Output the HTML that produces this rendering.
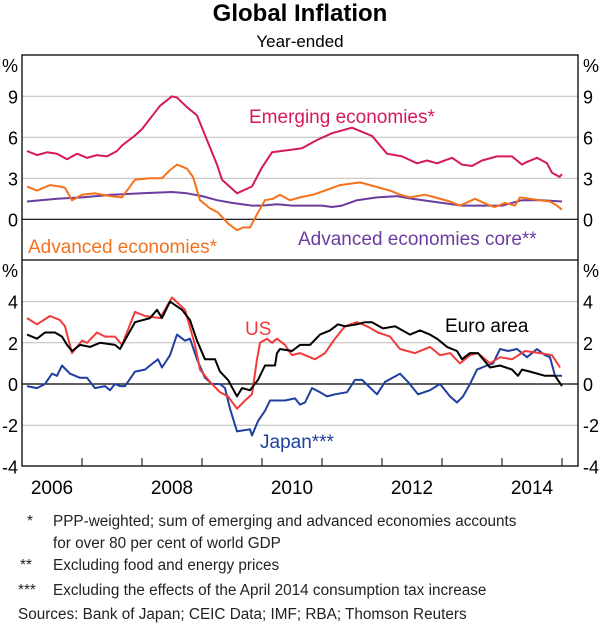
<!DOCTYPE html>
<html><head><meta charset="utf-8">
<style>
html,body{margin:0;padding:0;background:#fff;}
svg{display:block;font-family:"Liberation Sans",Arial,sans-serif;}
</style></head>
<body>
<svg id="chart" width="600" height="623" viewBox="0 0 600 623">
<text x="300" y="21" text-anchor="middle" font-size="24" font-weight="bold">Global Inflation</text>
<text x="300" y="47" text-anchor="middle" font-size="17">Year-ended</text>
<g id="grid"></g>
<g id="series"></g>
<rect x="22" y="55" width="556" height="411" fill="none" stroke="#000" stroke-width="1.3"/>
<line x1="22" y1="260" x2="578" y2="260" stroke="#000" stroke-width="1.3"/>
<g id="labels" font-size="18"></g>
<text x="249" y="123" font-size="19" fill="#d6185f">Emerging economies*</text>
<text x="28" y="253" font-size="19" fill="#f5721c">Advanced economies*</text>
<text x="298" y="245" font-size="19" fill="#6a3d9e">Advanced economies core**</text>
<text x="245" y="335" font-size="19" fill="#f23a3a">US</text>
<text x="445" y="332" font-size="19" fill="#000">Euro area</text>
<text x="260" y="448" font-size="19" fill="#1f3f9f">Japan***</text>
<g font-size="15.3" fill="#222">
<text x="27" y="526">*</text>
<text x="53" y="526">PPP-weighted; sum of emerging and advanced economies accounts</text>
<text x="53" y="548">for over 80 per cent of world GDP</text>
<text x="20" y="570">**</text>
<text x="53" y="570">Excluding food and energy prices</text>
<text x="18" y="595">***</text>
<text x="53" y="595">Excluding the effects of the April 2014 consumption tax increase</text>
<text x="18" y="619">Sources:  Bank of Japan; CEIC Data; IMF; RBA; Thomson Reuters</text>
</g>
</svg>
<script>
// months since Jan 2006 / values
const emergingM=[1,3,5,7,9,11,13,15,17,19,20,22.5,24,27.6,30,31,33,35,37,39,40,43,46,48,50,54,56,59,62,66,70,73,76,79,81,83,86,88,90,92,95,98,100,101,103,105,106,107.5,108];
const emergingV=[5.0,4.7,4.9,4.8,4.4,4.8,4.5,4.7,4.6,5.0,5.4,6.1,6.6,8.3,9.0,8.9,8.2,7.6,5.8,4.0,2.9,1.9,2.4,3.8,4.9,5.1,5.2,5.8,6.3,6.7,6.1,4.8,4.6,4.1,4.3,4.1,4.5,4.0,3.9,4.3,4.6,4.6,4.0,4.2,4.5,4.1,3.4,3.1,3.3];
const advancedM=[1,3,5.6,7.6,8.6,10,12,14.6,17.6,20,22.6,25.6,28,29.6,31,33,34.2,35.6,37.6,39.2,41.2,43,44.2,45.6,47.2,48.6,50.2,51.6,53.6,55.6,58.2,60.6,63.6,67.6,70.6,73.6,75.6,77.6,80.6,82.6,85.6,87.6,90.6,93.6,94.6,96.6,98.6,99.6,103.6,105.6,107,108];
const advancedV=[2.4,2.1,2.5,2.4,2.3,1.4,1.8,1.9,1.7,1.6,2.9,3.0,3.0,3.6,4.0,3.7,3.1,1.4,0.8,0.5,-0.3,-0.8,-0.6,-0.6,0.5,1.4,1.5,1.8,1.4,1.6,1.8,2.1,2.5,2.7,2.4,2.1,1.8,1.6,1.8,1.6,1.3,1.0,1.5,1.0,0.9,1.2,1.0,1.6,1.4,1.3,1.0,0.7];
const coreM=[1,7,12,18,24,30,33,36,39,42,46,48,51,54,60,62,64,67,71,75,78,82,86,88,91,96,100,104,108];
const coreV=[1.3,1.5,1.6,1.8,1.9,2.0,1.9,1.7,1.4,1.2,1.0,1.0,1.1,1.0,1.0,0.9,1.0,1.4,1.6,1.7,1.5,1.3,1.1,1.0,1.0,1.0,1.4,1.4,1.3];
const usM=[1,3,5.6,7.6,8.6,10,12,13,15,16.6,18.6,20,22.6,24.6,27.6,30,32.6,34.6,35.6,37.6,39.6,41.2,43,44.6,46,47,47.6,49,50,51,52.6,54,55.6,58.6,60.6,62.6,64.6,67,69,71.2,73.6,75.6,78.6,81.6,83.6,85.6,87.6,89.6,91.2,93.6,95.6,98,100.6,103.6,106,107.6];
const usV=[3.2,2.9,3.3,3.1,2.8,1.5,2.1,2.0,2.5,2.3,2.3,1.9,3.5,3.3,3.2,4.2,3.6,1.9,0.7,0.1,-0.4,-0.6,-1.2,-0.8,-0.5,1.2,2.0,2.2,2.0,2.2,1.9,1.4,1.5,1.2,1.5,2.2,2.8,3.0,2.8,2.5,2.3,1.7,1.5,1.8,1.4,1.5,1.0,1.4,1.5,1.0,1.3,1.2,1.6,1.5,1.4,0.8];
const euroM=[1,3,4.6,6.6,8,9,10,11.6,13.6,15.6,18.6,19.6,22.6,25.6,27,28,29.6,32,33.6,35,36.6,38.6,39.6,41.2,43,44,45.6,47.2,48.6,50.6,51,51.6,54,55.6,57.6,59.6,61.6,63.2,64.6,67,68.6,70,72.2,74.6,77.6,79.6,81.6,83,85,87,88,89.6,91.2,93.6,95.6,98,99.2,100,101.6,104.6,106.6,108];
const euroV=[2.4,2.2,2.5,2.5,2.3,1.9,1.6,1.9,1.8,2.0,1.9,1.7,3.0,3.2,3.6,3.2,4.0,3.6,3.1,2.1,1.2,1.2,0.6,0.2,-0.6,-0.2,-0.3,0.2,0.9,0.9,1.5,1.7,1.6,1.9,1.9,2.4,2.6,2.9,2.8,2.9,3.0,3.0,2.7,2.8,2.4,2.6,2.4,2.2,1.8,1.6,1.2,1.5,1.5,0.8,0.9,0.7,0.4,0.7,0.6,0.4,0.4,-0.1];
const japanM=[1,3,4.6,6,7,8,9.6,11.6,13,14.6,16.6,17.6,18.6,19.6,20.6,22.6,24.6,25.6,27.2,28,29.6,31,32.6,33.6,35,36.6,38,39.6,40.6,41.6,43,45.6,46,47.2,48.6,49.6,52.6,54.6,55.6,56.6,58,59.6,61,62.6,65,66.6,68,71,72.6,75.6,77.2,79.2,81.6,83.6,85.6,87,88.2,89.6,91,93,94.2,95.6,97.2,99,101,103,104.6,105.6,106.6,108];
const japanV=[-0.1,-0.2,0,0.5,0.4,0.9,0.5,0.3,0.3,-0.2,-0.1,-0.3,0,-0.1,-0.1,0.6,0.7,0.9,1.2,0.8,1.4,2.4,2.1,2.2,1.2,0.3,0,0,-0.2,-1.2,-2.3,-2.2,-2.5,-1.8,-1.3,-0.8,-0.8,-0.7,-1.0,-0.9,-0.2,-0.4,-0.6,-0.5,-0.4,0.2,0.2,-0.5,0.1,0.5,0.1,-0.5,-0.3,0,-0.6,-0.9,-0.6,0,0.7,0.9,1.0,1.7,1.6,1.7,1.3,1.7,1.4,1.3,0.4,0.4];
const topTicks=[9,6,3,0];
const bottomTicks=[4,2,0,-2,-4];
const yearLabels=["2006","2008","2010","2012","2014"];

const NS="http://www.w3.org/2000/svg";
const xS=m=>22+m*5;
const yTop=v=>219.3-13.67*v;
const yBot=v=>384-20.6*v;
function mk(tag,attrs,parent){const e=document.createElementNS(NS,tag);for(const k in attrs)e.setAttribute(k,attrs[k]);parent.appendChild(e);return e;}
const grid=document.getElementById('grid'),ser=document.getElementById('series'),lab=document.getElementById('labels');

topTicks.forEach(v=>{
  const l=mk('line',{x1:22,x2:578,y1:yTop(v),y2:yTop(v),stroke:v===0?'#000':'#bbb','stroke-width':v===0?1.2:1},grid);
  
  
  [[18,'end'],[583,'start']].forEach(([x,a])=>{
    const t=mk('text',{x:x,y:yTop(v)+7,'text-anchor':a},lab);t.textContent=v;
    
    
  });
});
bottomTicks.forEach(v=>{
  if(v>-4){
    const l=mk('line',{x1:22,x2:578,y1:yBot(v),y2:yBot(v),stroke:v===0?'#000':'#bbb','stroke-width':v===0?1.2:1},grid);
    
    
  }
  [[18,'end'],[583,'start']].forEach(([x,a])=>{
    const t=mk('text',{x:x,y:yBot(v)+7,'text-anchor':a},lab);t.textContent=v;
    
    
  });
});
[[2,72],[583,72],[2,277],[583,277]].forEach(([x,y])=>{
  const t=mk('text',{x:x,y:y},lab);t.textContent='%';
  
  
});
for(let yr=1;yr<=9;yr++){
  const l=mk('line',{x1:xS(yr*12),x2:xS(yr*12),y1:458,y2:466,stroke:'#000','stroke-width':1},grid);
  
  
}
yearLabels.forEach((s,i)=>{
  const t=mk('text',{x:xS(i*24+6),y:494,'text-anchor':'middle','font-size':19},lab);t.textContent=s;
  
  
});
function line(M,V,ys,color,name){
  const d=M.map((m,i)=>(i?'L':'M')+xS(m).toFixed(1)+','+ys(V[i]).toFixed(1)).join('');
  const p=mk('path',{d:d,fill:'none',stroke:color,'stroke-width':2,'stroke-linejoin':'round'},ser);
  
  
}
line(coreM,coreV,yTop,'#6a3d9e','advanced-core-line');
line(advancedM,advancedV,yTop,'#f5721c','advanced-line');
line(emergingM,emergingV,yTop,'#d6185f','emerging-line');
line(japanM,japanV,yBot,'#1f3f9f','japan-line');
line(usM,usV,yBot,'#f23a3a','us-line');
line(euroM,euroV,yBot,'#000000','euro-area-line');
</script>
</body></html>
